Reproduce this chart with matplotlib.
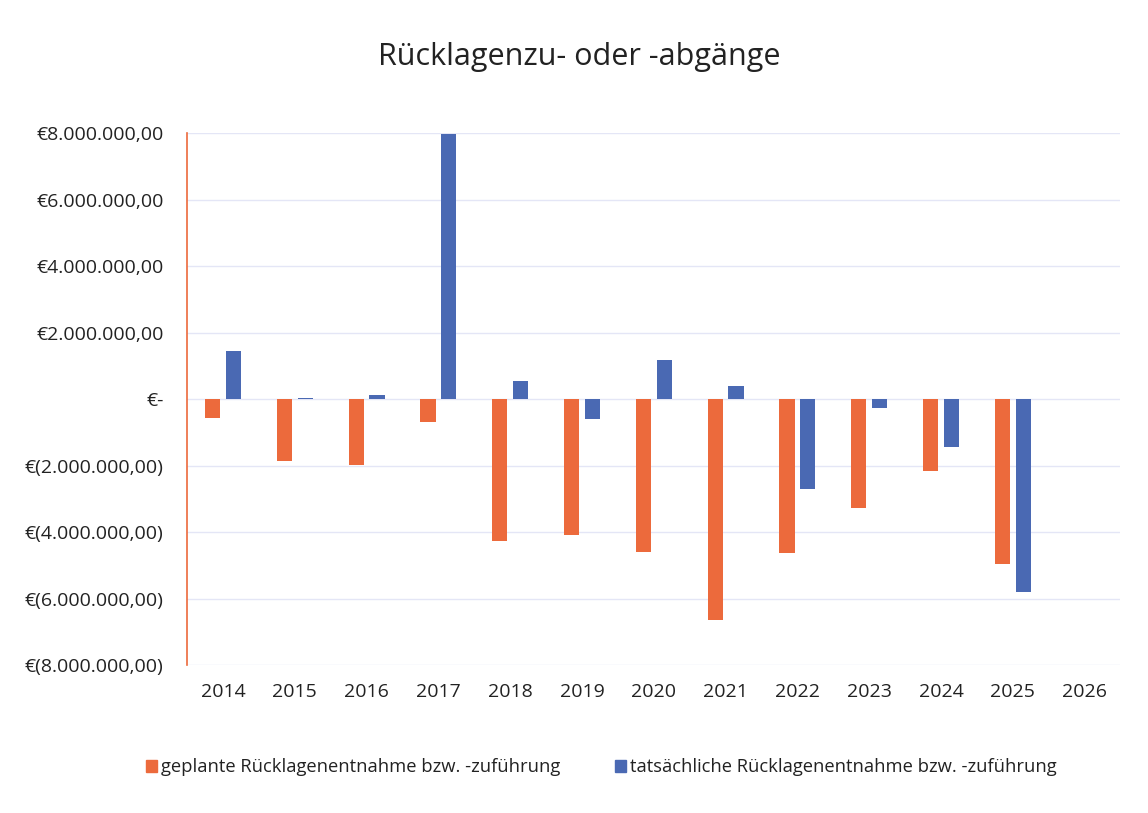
import numpy as np
import matplotlib.pyplot as plt
from matplotlib.ticker import FuncFormatter, MultipleLocator
from matplotlib.patches import Patch

plt.rcParams['font.family'] = ['Open Sans', 'DejaVu Sans']

jahre = ['2014', '2015', '2016', '2017', '2018', '2019', '2020',
         '2021', '2022', '2023', '2024', '2025', '2026']
# Werte in Mio. EUR
geplant = [-0.58, -1.85, -1.97, -0.69, -4.26, -4.10, -4.61,
           -6.63, -4.62, -3.27, -2.17, -4.97, np.nan]
tatsaechlich = [1.44, 0.03, 0.14, 7.98, 0.55, -0.61, 1.19,
                0.41, -2.71, -0.28, -1.45, -5.81, np.nan]

c_geplant = '#EC6A3C'
c_tats = '#4A69B3'

def euro_fmt(v, pos):
    if abs(v) < 1e-9:
        return '€-'
    s = f"{abs(v) * 1e6:,.2f}".replace(',', 'X').replace('.', ',').replace('X', '.')
    return f"€{s}" if v > 0 else f"€({s})"

fig = plt.figure(figsize=(11.48, 8.13), dpi=100)
ax = fig.add_axes([0.163, 0.182, 0.813, 0.654])

x = np.arange(len(jahre))
w = 0.21
ax.bar(x - 0.145, np.array(geplant), w, color=c_geplant, zorder=3)
ax.bar(x + 0.145, np.array(tatsaechlich), w, color=c_tats, zorder=3)

ax.set_ylim(-8, 8)
ax.set_xlim(-0.5, len(jahre) - 0.5)
ax.yaxis.set_major_locator(MultipleLocator(2))
ax.yaxis.set_major_formatter(FuncFormatter(euro_fmt))
ax.set_xticks(x)
ax.set_xticklabels(jahre)
ax.tick_params(length=0, labelsize=14, colors='#222222')
ax.tick_params(axis='x', pad=13)
ax.tick_params(axis='y', pad=17)
ax.grid(axis='y', color='#e4e6f6', lw=1, zorder=0)

for s in ['top', 'right', 'bottom']:
    ax.spines[s].set_visible(False)
ax.spines['left'].set_color(c_geplant)
ax.spines['left'].set_linewidth(1.2)

fig.text(0.505, 0.930, 'Rücklagenzu- oder -abgänge', ha='center', va='center',
         fontsize=22, color='#222222')

handles = [Patch(color=c_geplant), Patch(color=c_tats)]
labels = ['geplante Rücklagenentnahme bzw. -zuführung',
          'tatsächliche Rücklagenentnahme bzw. -zuführung']
fig.legend(handles, labels, loc='center', bbox_to_anchor=(0.524, 0.056), ncol=2,
           frameon=False, fontsize=13.2, handlelength=0.6, handleheight=0.6,
           handletextpad=0.2, columnspacing=3.0, labelcolor='#222222')

fig.savefig('out.png', dpi=100)
